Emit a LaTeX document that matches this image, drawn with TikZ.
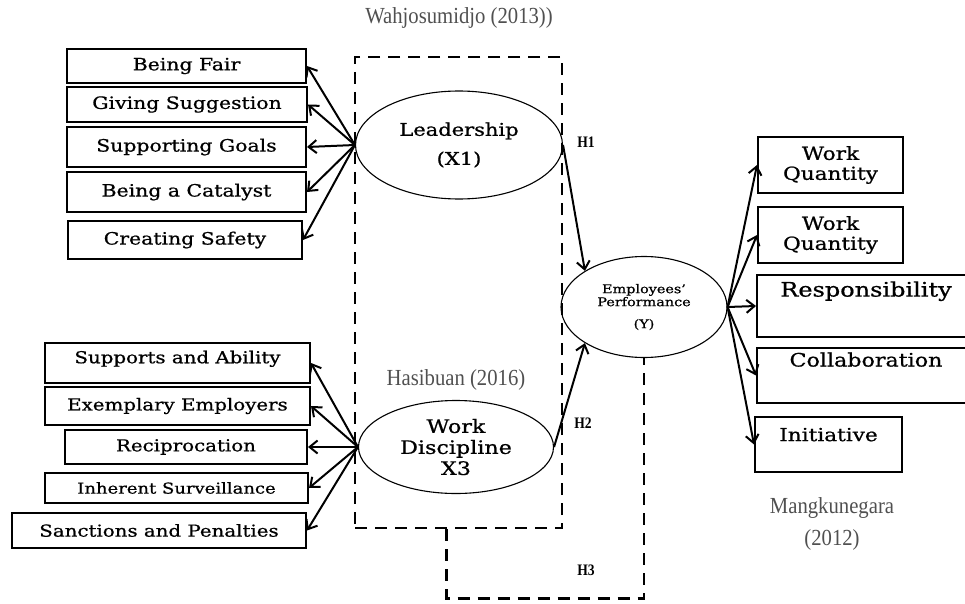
\documentclass[tikz,border=0pt]{standalone}
\usepackage{fontspec}
\setmainfont[FakeStretch=1.2, FakeBold=0.8]{DejaVu Serif}
\newfontfamily\citefont[FakeStretch=0.9]{Liberation Serif}
\newfontfamily\hypfont[FakeStretch=0.85]{Liberation Serif}
\usepackage{xcolor}
\usetikzlibrary{positioning, shapes.geometric, arrows.meta}
\definecolor{citegray}{RGB}{80,80,80}

\begin{document}
\begin{tikzpicture}[
    x=1pt, y=-1pt,
    box/.style={rectangle, draw, line width=2pt, align=center, font=\fontsize{17}{20}\selectfont},
    oval/.style={ellipse, draw, line width=1.1pt, align=center, inner sep=0pt},
    frame/.style={draw, line width=2.8pt, dash pattern=on 12pt off 8pt, inner sep=0pt},
    cite/.style={text=citegray, align=center, font=\citefont\fontsize{23}{32}\selectfont},
    hyp/.style={font=\hypfont\bfseries\fontsize{16}{18}\selectfont},
    link/.style={-{Straight Barb[length=8pt, width=13pt]}, line width=2pt}
]
\clip (0,0) rectangle (965,604);

% dashed frame round the two variables
\node[frame, minimum width=207pt, minimum height=471pt] (frame) at (458.5,292.5) {};

% variables
\node[oval, minimum width=207pt, minimum height=108pt, font=\fontsize{17.5}{20}\selectfont] (lead) at (459,145) {Leadership\\[9pt](X1)};
\node[oval, minimum width=195pt, minimum height=93pt, font=\fontsize{18.5}{21}\selectfont] (disc) at (456,447) {Work\\Discipline\\X3};
\node[oval, minimum width=166pt, minimum height=101pt, font=\fontsize{12}{13}\selectfont] (perf) at (644,307) {Employees’\\Performance\\[9pt](Y)};

% leadership indicators
\node[box, minimum width=239pt, minimum height=34pt] (fair) at (186.5,66) {Being Fair};
\node[box, minimum width=240pt, minimum height=35pt] (suggest) at (187,104.5) {Giving Suggestion};
\node[box, minimum width=239pt, minimum height=40pt] (goals) at (186.5,147) {Supporting Goals};
\node[box, minimum width=239pt, minimum height=40pt] (catalyst) at (186.5,192) {Being a Catalyst};
\node[box, minimum width=234pt, minimum height=38pt] (safety) at (185,240) {Creating Safety};

% discipline indicators
\node[box, minimum width=265pt, minimum height=40pt, text depth=12pt, font=\fontsize{16.5}{20}\selectfont] (ability) at (177.5,363) {Supports and Ability};
\node[box, minimum width=265pt, minimum height=38pt, font=\fontsize{16.5}{20}\selectfont] (exemp) at (177.5,406) {Exemplary Employers};
\node[box, minimum width=242pt, minimum height=34pt, font=\fontsize{16.5}{20}\selectfont] (recip) at (186,447) {Reciprocation};
\node[box, minimum width=263pt, minimum height=30pt, font=\fontsize{15}{18}\selectfont] (inherent) at (176.5,488) {Inherent Surveillance};
\node[box, minimum width=294pt, minimum height=35pt, font=\fontsize{16.5}{20}\selectfont] (sanction) at (159,530.5) {Sanctions and Penalties};

% performance indicators
\node[box, minimum width=145pt, minimum height=56pt, font=\fontsize{18}{20}\selectfont] (wq1) at (830.5,165) {Work\\Quantity};
\node[box, minimum width=145pt, minimum height=56pt, font=\fontsize{18}{20}\selectfont] (wq2) at (830.5,235) {Work\\Quantity};
\node[box, minimum width=218pt, minimum height=62pt, text depth=34pt, font=\fontsize{20}{22}\selectfont] (resp) at (866,306) {Responsibility};
\node[box, minimum width=218pt, minimum height=55pt, text depth=32pt, font=\fontsize{18.5}{21}\selectfont] (collab) at (866,375.5) {Collaboration};
\node[box, minimum width=147pt, minimum height=55pt, text depth=20pt, font=\fontsize{18}{21}\selectfont] (init) at (828.5,444.5) {Initiative};

% sources and hypotheses
\node[cite] (wahjo) at (459,18) {Wahjosumidjo (2013))};
\node[cite, above=6pt of disc] (hasib) {Hasibuan (2016)};
\node[cite] (mangku) at (832,524) {Mangkunegara\\(2012)};
\node[hyp] (h1) at (586,142) {H1};
\node[hyp] (h2) at (583,423) {H2};
\node[hyp] (h3) at (586,570) {H3};

\foreach \t in {fair,suggest,goals,catalyst,safety}
    \draw[link] (lead.west) -- (\t.east);
\foreach \t in {ability,exemp,recip,inherent,sanction}
    \draw[link] (disc.west) -- (\t.east);
\foreach \t in {wq1,wq2,resp,collab,init}
    \draw[link] (perf.east) -- (\t.west);

\draw[link] (lead.east) -- (perf.north west);
\draw[link] (disc.east) -- (perf.south west);
\draw[frame] ([xshift=-12pt]frame.south) -- ++(0,69) -| (perf.south);

\end{tikzpicture}
\end{document}
